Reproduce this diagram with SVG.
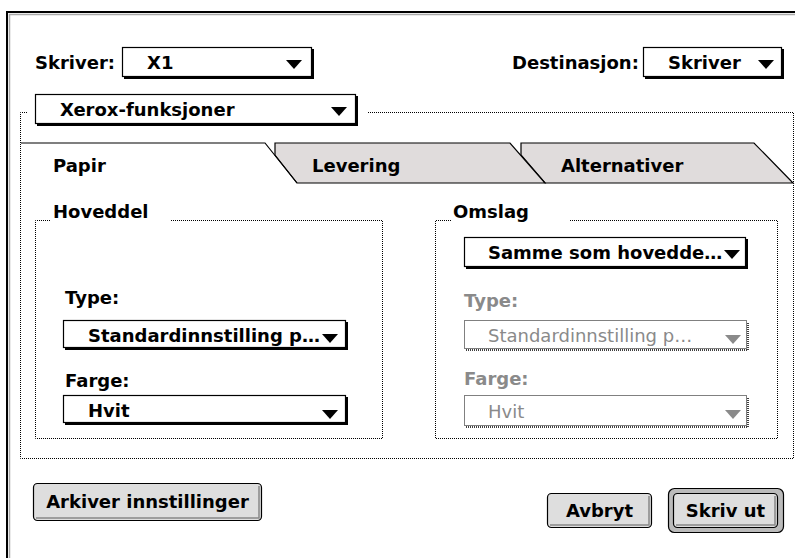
<svg xmlns="http://www.w3.org/2000/svg" width="795" height="558" viewBox="0 0 795 558">
<style>
text{font-family:"DejaVu Sans","Liberation Sans",sans-serif;font-weight:bold;font-size:18px;fill:#000}
.dis{fill:#8a8a8a;font-weight:normal}
.dot{fill:none;stroke:#000;stroke-width:1;stroke-dasharray:1 1}
.pop{fill:#fff;stroke:#000;stroke-width:1.2}
.shadow{fill:none;stroke:#000;stroke-width:2}
.tri{fill:#000}
.tab{fill:#e0dcdc;stroke:#000;stroke-width:1.2}
.btn{fill:#dedede;stroke:#000;stroke-width:1.2}
.bev{fill:none;stroke:#888;stroke-width:1.5}
</style>
<rect width="795" height="558" fill="#fff"/>
<g id="window">
  <path d="M7 558 V12 H795" fill="none" stroke="#000" stroke-width="2"/>
  <path d="M9.5 558 V14.5 H795" fill="none" stroke="#aaa" stroke-width="1.5"/>
</g>
<g id="skriver">
  <text x="35" y="69">Skriver:</text>
  <rect class="pop" x="122.5" y="47.5" width="189" height="29"/>
  <path class="shadow" d="M124 78 H313 V49"/>
  <text x="147" y="69">X1</text>
  <polygon class="tri" points="286,60 302,60 294,69"/>
</g>
<g id="destinasjon">
  <text x="512" y="69">Destinasjon:</text>
  <rect class="pop" x="643.5" y="47.5" width="138" height="29"/>
  <path class="shadow" d="M645 78 H783 V49"/>
  <text x="668" y="69">Skriver</text>
  <polygon class="tri" points="758,60 774,60 766,69"/>
</g>
<g id="features-box">
  <path class="dot" d="M27 112.5 H20.5 V458.5 H793.5 V112.5 H367"/>
</g>
<g id="xerox">
  <rect class="pop" x="35.5" y="94.5" width="320" height="29"/>
  <path class="shadow" d="M37 125 H357 V96"/>
  <text x="60" y="116">Xerox-funksjoner</text>
  <polygon class="tri" points="331,107 347,107 339,116"/>
</g>
<g id="tab-alternativer">
  <polygon class="tab" points="521,143 754,143 793,183 545,183 521,155"/>
  <text x="561" y="172">Alternativer</text>
</g>
<g id="tab-levering">
  <polygon class="tab" points="275,143 510,143 545,183 297,183 275,155"/>
  <text x="312" y="172">Levering</text>
</g>
<g id="tab-papir">
  <path d="M21 143 H265 L297 183" fill="none" stroke="#000" stroke-width="1.2"/>
  <text x="53" y="172">Papir</text>
</g>
<g id="hoveddel">
  <path class="dot" d="M50 220.5 H35.5 V438.5 H382.5 V220.5 H170"/>
  <text x="53" y="218">Hoveddel</text>
  <text x="65" y="304">Type:</text>
  <rect class="pop" x="63.5" y="320.5" width="282" height="27"/>
  <path class="shadow" d="M65 349 H347 V322"/>
  <text x="88" y="342">Standardinnstilling p…</text>
  <polygon class="tri" points="322,334 338,334 330,343"/>
  <text x="65" y="387">Farge:</text>
  <rect class="pop" x="63.5" y="395.5" width="282" height="27"/>
  <path class="shadow" d="M65 424 H347 V397"/>
  <text x="88" y="417">Hvit</text>
  <polygon class="tri" points="322,410 338,410 330,419"/>
</g>
<g id="omslag">
  <path class="dot" d="M451 220.5 H435.5 V438.5 H777.5 V220.5 H570"/>
  <text x="453" y="218">Omslag</text>
  <rect class="pop" x="464.5" y="237.5" width="281" height="29"/>
  <path class="shadow" d="M466 268 H747 V239"/>
  <text x="488" y="259">Samme som hovedde…</text>
  <polygon class="tri" points="724,250 740,250 732,259"/>
  <text class="dis" x="464" y="307" style="font-weight:bold">Type:</text>
  <rect class="dot" x="464.5" y="320.5" width="282" height="28"/>
  <path d="M466 350 H748 V322" fill="none" stroke="#000" stroke-width="1.5" stroke-dasharray="1 1"/>
  <text class="dis" x="488" y="342">Standardinnstilling p…</text>
  <polygon points="725,335 741,335 733,344" fill="#8a8a8a"/>
  <text class="dis" x="464" y="385" style="font-weight:bold">Farge:</text>
  <rect class="dot" x="464.5" y="395.5" width="282" height="30"/>
  <path d="M466 427 H748 V397" fill="none" stroke="#000" stroke-width="1.5" stroke-dasharray="1 1"/>
  <text class="dis" x="488" y="418">Hvit</text>
  <polygon points="725,410 741,410 733,419" fill="#8a8a8a"/>
</g>
<g id="btn-arkiver">
  <rect class="btn" x="33.5" y="483.5" width="228" height="37" rx="4"/>
  <path class="bev" d="M36 518 H259 V486"/>
  <text x="147.5" y="508" text-anchor="middle">Arkiver innstillinger</text>
</g>
<g id="btn-avbryt">
  <rect class="btn" x="547.5" y="493.5" width="104" height="34" rx="4"/>
  <path class="bev" d="M550 525 H649 V496"/>
  <text x="599.5" y="517" text-anchor="middle">Avbryt</text>
</g>
<g id="btn-skriv-ut">
  <rect x="668.5" y="488.5" width="115" height="44" rx="6" fill="#bbb" stroke="#000" stroke-width="1.2"/>
  <rect class="btn" x="673.5" y="493.5" width="104" height="34" rx="4"/>
  <path class="bev" d="M676 525 H775 V496"/>
  <text x="725.5" y="517" text-anchor="middle">Skriv ut</text>
</g>
</svg>
